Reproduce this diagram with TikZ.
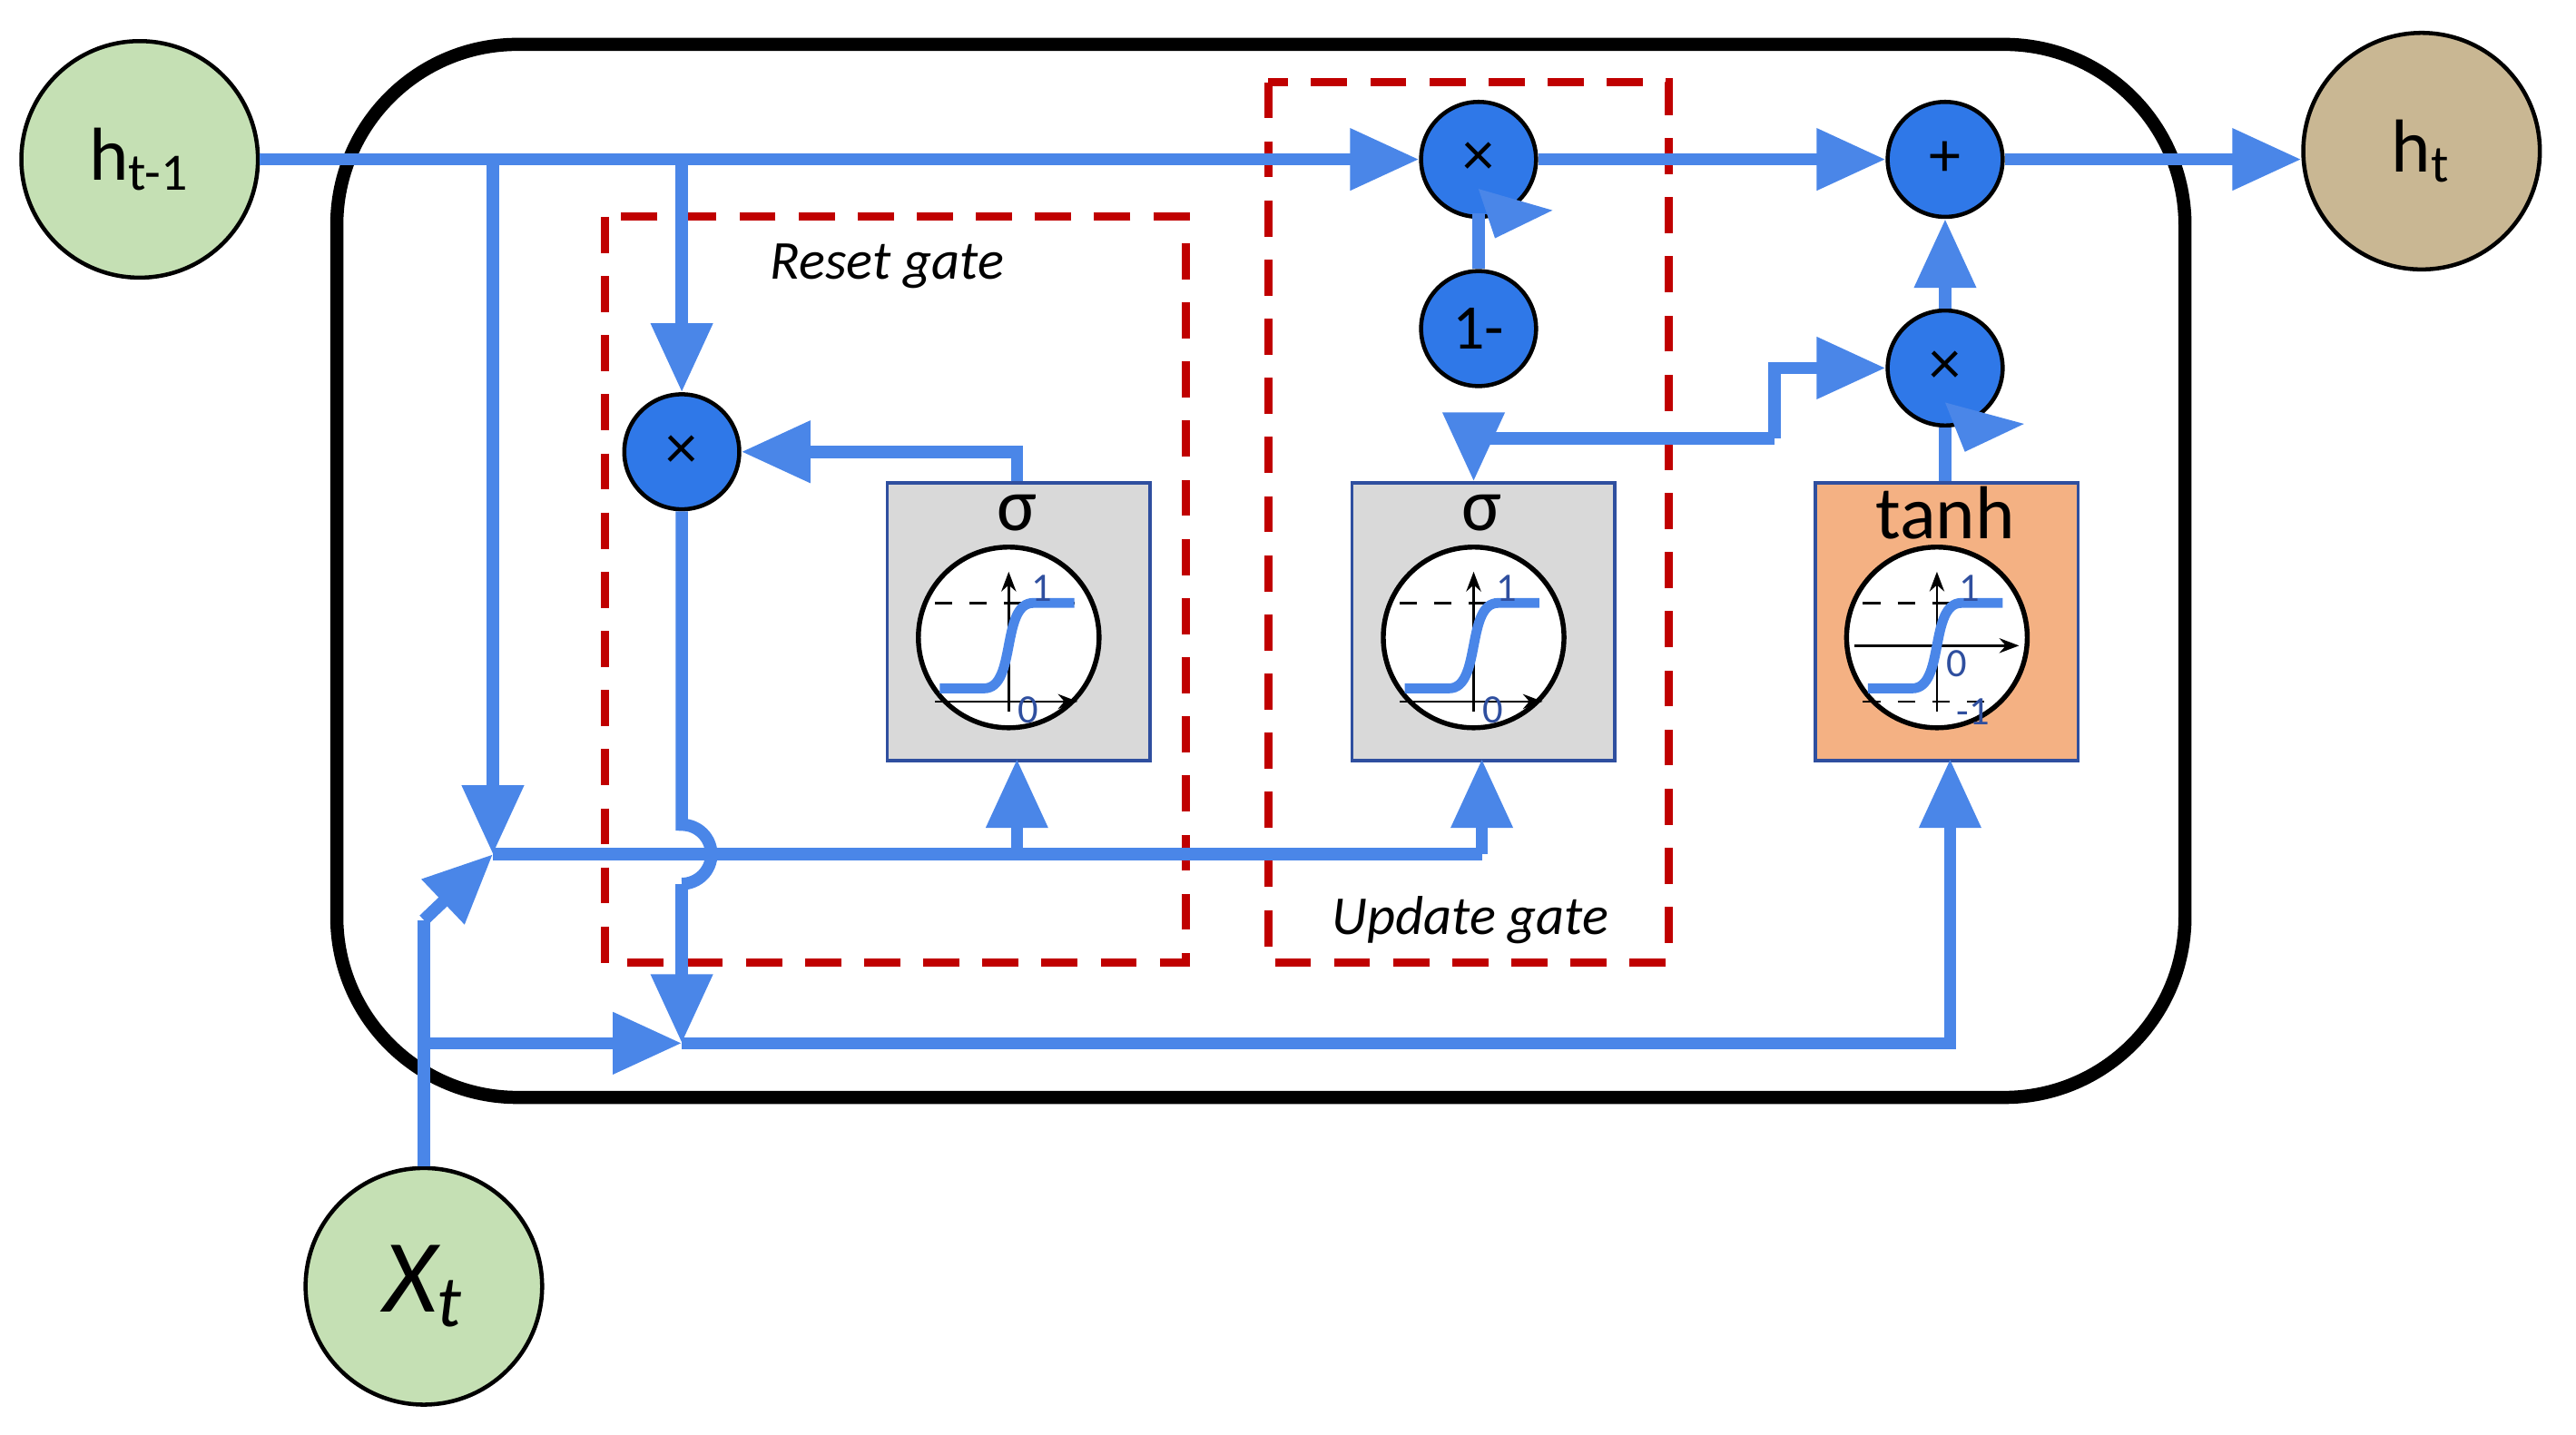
\documentclass[tikz,border=0pt]{standalone}
\usepackage{fontspec}
\setmainfont{Carlito}
\usetikzlibrary{arrows.meta}
\definecolor{lb}{HTML}{4A86E8}
\definecolor{cb}{HTML}{2F78E8}
\definecolor{gr}{HTML}{C5E0B4}
\definecolor{tan}{HTML}{C9B793}
\definecolor{rd}{HTML}{C00000}
\definecolor{bx}{HTML}{2F4F9F}
\definecolor{og}{HTML}{F4B183}
\begin{document}
\begin{tikzpicture}[x=0.1mm,y=-0.1mm,
 io/.style={circle,draw=black,line width=0.25mm,minimum size=14.4mm,inner sep=0,font=\fontsize{13}{13}\selectfont},
 op/.style={circle,draw=black,line width=0.25mm,fill=cb,minimum size=7mm,inner sep=0,font=\fontsize{11}{11}\selectfont},
 bl/.style={draw=lb,line width=0.75mm},
 ar/.style={bl,-{Triangle[length=4.2mm,width=3.6mm]}},
 gate/.style={draw=rd,line width=0.5mm,dash pattern=on 2.2mm off 1.4mm},
 box/.style={draw=bx,line width=0.2mm,minimum width=16mm,minimum height=16.9mm,anchor=north west},
 lab/.style={font=\itshape\fontsize{9.5}{10}\selectfont},
 sm/.style={text=bx,font=\fontsize{7}{7}\selectfont,inner sep=0}]
\useasboundingbox (0,0) rectangle (1568,873);
\draw[line width=0.8mm,rounded corners=11mm] (205,27) rectangle (1330,668);
\draw[gate] (368,132) rectangle (722,586);
\draw[gate] (772,50) rectangle (1016,586);
\node[lab] (rl) at (540,162) {Reset gate};
\node[lab] (ul) at (895,560) {Update gate};
\node[io,fill=gr] (h0) at (85,97) {h\textsubscript{t-1}};
\node[io,fill=tan] (h1) at (1474,92) {h\textsubscript{t}};
\node[io,fill=gr,font=\itshape\fontsize{18}{18}\selectfont] (x) at (258,783) {X\textsubscript{t}};
\node[op] (m1) at (900,97) {×};
\node[op] (om) at (900,200) {1-};
\node[op] (pl) at (1184,97) {+};
\node[op] (m2) at (1184,224) {×};
\node[op] (mr) at (415,275) {×};
\node[box,fill=black!15] (s1) at (539,293) {};
\node[box,fill=black!15] (s2) at (822,293) {};
\node[box,fill=og] (th) at (1104,293) {};
\foreach \cx/\t/\tt in {619/σ/0,902/σ/0,1184/tanh/1}{
 \node[font=\fontsize{13}{13}\selectfont] at (\cx,312) {\t};
 \begin{scope}[shift={(\cx-5,388)}]
  \draw[fill=white,line width=0.3mm] (0,0) circle (5.5mm);
  \ifnum\tt=0
   \draw[-{Stealth[length=1.2mm]},line width=0.15mm] (-45,39)--(42,39);
   \draw[-{Stealth[length=1.2mm]},line width=0.15mm] (0,45)--(0,-40);
   \draw[dashed,line width=0.15mm] (-45,-21)--(40,-21);
   \draw[lb,line width=0.6mm] (-42,31) -- (-15,31) .. controls (5,31) and (-5,-21) .. (15,-21) -- (40,-21);
   \node[sm] at (20,-30) {1};
   \node[sm] at (12,44) {0};
  \else
   \draw[-{Stealth[length=1.2mm]},line width=0.15mm] (-50,5)--(50,5);
   \draw[-{Stealth[length=1.2mm]},line width=0.15mm] (0,45)--(0,-40);
   \draw[dashed,line width=0.15mm] (-45,-21)--(40,-21);
   \draw[dashed,line width=0.15mm] (-45,39)--(40,39);
   \draw[lb,line width=0.6mm] (-42,31) -- (-15,31) .. controls (5,31) and (-5,-21) .. (15,-21) -- (40,-21);
   \node[sm] at (20,-30) {1};
   \node[sm] at (12,16) {0};
   \node[sm] at (22,45) {-1};
  \fi
 \end{scope}}
\coordinate (j) at (300,520);
\coordinate (jx) at (415,635);
\draw[ar] (h0.east) -- (m1.west);
\draw[ar] (m1.east) -- (pl.west);
\draw[ar] (pl.east) -- (h1.west|-pl.east);
\draw[ar] (300,97) -- (j);
\draw[ar] (415,97) -- (mr.north);
\draw[bl] (x.north) -- (258,560);
\draw[ar] (258,560) -- (j);
\draw[ar] (258,635) -- (jx);
\draw[bl] (j) -- (902,520);
\draw[ar] (619,520) -- (619,462);
\draw[ar] (902,520) -- (902,462);
\draw[ar] (619,293) -- (619,275) -- (mr.east);
\draw[bl] (mr.south) -- (415,502) arc (-90:90:18);
\draw[ar] (415,538) -- (jx);
\draw[ar] (jx) -- (1187,635) -- (1187,462);
\draw[ar] (1080,267) -- (897,267) -- (897,293);
\draw[ar] (1080,267) -- (1080,224) -- (m2.west);
\draw[ar] (m2.north) -- (pl.south);
\draw[bl] (om.north) -- (900,130);
\fill[lb] (900,115) -- (945,128) -- (910,145) -- cycle;
\draw[bl] (1184,293) -- (m2.south);
\fill[lb] (1184,245) -- (1232,258) -- (1196,275) -- cycle;
\end{tikzpicture}
\end{document}
